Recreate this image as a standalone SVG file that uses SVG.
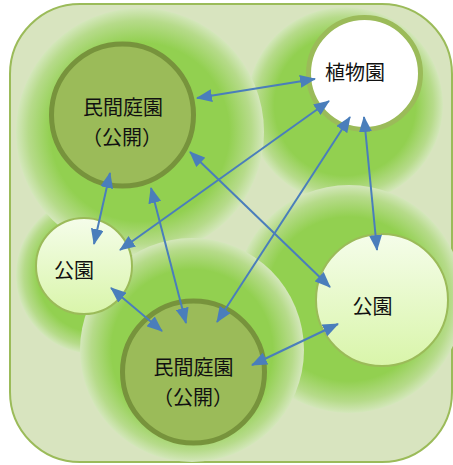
<svg xmlns="http://www.w3.org/2000/svg" width="453" height="465" viewBox="0 0 453 465">
<defs>
<radialGradient id="halo" cx="50%" cy="50%" r="50%">
<stop offset="0" stop-color="#92d050" stop-opacity="1"/>
<stop offset="0.72" stop-color="#92d050" stop-opacity="1"/>
<stop offset="0.9" stop-color="#b6db8a" stop-opacity="1"/>
<stop offset="1" stop-color="#d4e7bb" stop-opacity="1"/>
</radialGradient>
<linearGradient id="park" x1="0" y1="0" x2="0" y2="1">
<stop offset="0" stop-color="#f5fdea"/>
<stop offset="1" stop-color="#d9f5aa"/>
</linearGradient>
<marker id="ah" viewBox="0 0 16 13" markerWidth="16" markerHeight="13" refX="15" refY="6.5" markerUnits="userSpaceOnUse" orient="auto-start-reverse">
<path d="M0,0 L16,6.5 L0,13 z" fill="#4a7ebb"/>
</marker>
<style>
.halo{fill:url(#halo)}
.priv{fill:#9bbb59;stroke:#77933c;stroke-width:5}
.bot{fill:#ffffff;stroke:#9bbb59;stroke-width:5}
.park{fill:url(#park);stroke:#9bbb59;stroke-width:2}
.lbl{font-family:"Noto Sans CJK JP","Noto Sans CJK SC",sans-serif;font-size:20px;fill:#111111;text-anchor:middle}
.con line{stroke:#4a7ebb;stroke-width:2;marker-start:url(#ah);marker-end:url(#ah)}
</style>
</defs>
<rect x="10" y="4" width="442" height="458" rx="70" ry="70" fill="#d8e4bf" stroke="#9bbb59" stroke-width="2"/>
<g id="halos">
<circle class="halo" cx="95" cy="275" r="79"/>
<circle class="halo" cx="345" cy="105" r="98"/>
<circle class="halo" cx="349" cy="299" r="114"/>
<circle class="halo" cx="140" cy="132" r="124"/>
<circle class="halo" cx="192" cy="350" r="112"/>
</g>
<g id="node-private1">
<circle class="priv" cx="122.5" cy="115" r="71"/>
<text class="lbl" x="123" y="115">民間庭園</text>
<text class="lbl" x="122" y="145">（公開）</text>
</g>
<g id="node-botanical">
<circle class="bot" cx="364.5" cy="73.5" r="56"/>
<text class="lbl" x="355" y="80">植物園</text>
</g>
<g id="node-park1">
<circle class="park" cx="84" cy="266" r="48"/>
<text class="lbl" x="74" y="278">公園</text>
</g>
<g id="node-park2">
<circle class="park" cx="382" cy="300" r="66"/>
<text class="lbl" x="372.5" y="314">公園</text>
</g>
<g id="node-private2">
<circle class="priv" cx="193.5" cy="372" r="71"/>
<text class="lbl" x="193.5" y="375">民間庭園</text>
<text class="lbl" x="193" y="405">（公開）</text>
</g>
<g id="connectors" class="con">
<line x1="197" y1="98" x2="315" y2="79"/>
<line x1="329" y1="101" x2="120" y2="250"/>
<line x1="350" y1="117" x2="217" y2="322"/>
<line x1="364" y1="117" x2="377" y2="250"/>
<line x1="110" y1="173" x2="94" y2="244"/>
<line x1="151" y1="188" x2="186" y2="323"/>
<line x1="190" y1="152" x2="330" y2="287"/>
<line x1="111" y1="288" x2="162" y2="331"/>
<line x1="252" y1="365" x2="338" y2="324"/>
</g>
</svg>
